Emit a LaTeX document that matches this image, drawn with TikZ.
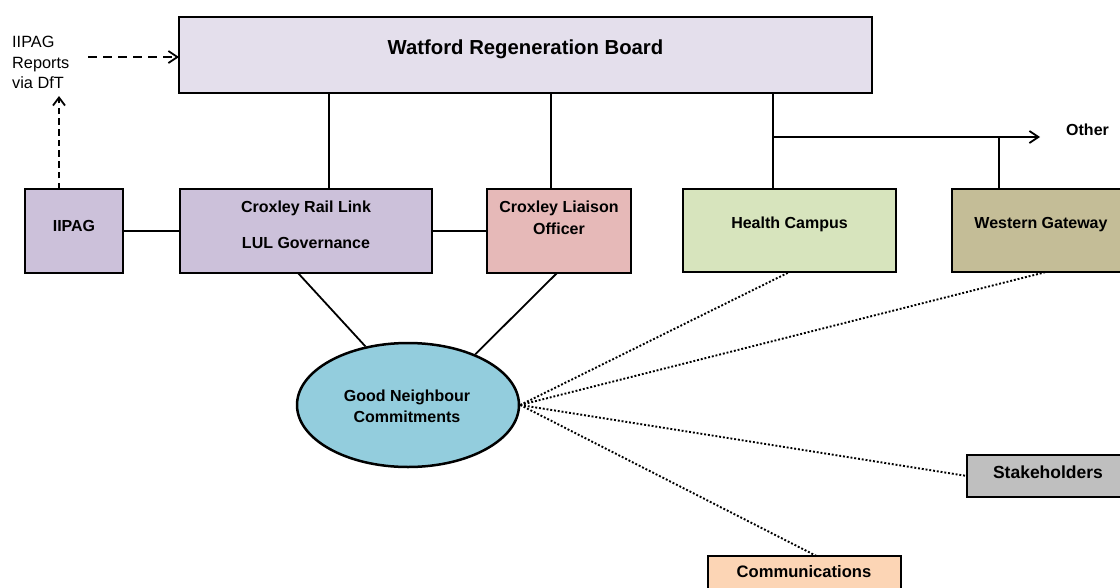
\documentclass[tikz,border=0pt]{standalone}
\usepackage{fontspec}
\setmainfont{Liberation Sans}
\usetikzlibrary{shapes.geometric,arrows.meta}

\definecolor{boardfill}{HTML}{E4DFEC}
\definecolor{lilacfill}{HTML}{CCC1DA}
\definecolor{pinkfill}{HTML}{E6B9B8}
\definecolor{greenfill}{HTML}{D7E4BD}
\definecolor{olivefill}{HTML}{C4BD97}
\definecolor{bluefill}{HTML}{93CDDD}
\definecolor{greyfill}{HTML}{BFBFBF}
\definecolor{peachfill}{HTML}{FCD5B5}

\begin{document}
\begin{tikzpicture}[x=1pt,y=-1pt,
  box/.style={draw=black, line width=2pt, inner sep=0pt, outer sep=0pt, anchor=north west},
  lbl/.style={font=\bfseries\fontsize{16}{19}\selectfont, inner sep=0pt, anchor=base},
  plain/.style={font=\fontsize{16.3}{19}\selectfont, inner sep=0pt, anchor=base west},
  link/.style={line width=1.8pt},
  dotlink/.style={line width=1.9pt, dash pattern=on 1.9pt off 1.9pt},
  barb/.style={-{Straight Barb[length=9pt,width=12pt,line width=1.8pt]}}
]
\clip (0,0) rectangle (1120,587);
\fill[white] (0,0) rectangle (1120,587);

% boxes
\node[box, fill=boardfill, minimum width=693pt, minimum height=76pt] (wrb) at (179,17) {};
\node[box, fill=lilacfill, minimum width=98pt, minimum height=84pt] (iip) at (25,189) {};
\node[box, fill=lilacfill, minimum width=252pt, minimum height=84pt] (crl) at (180,189) {};
\node[box, fill=pinkfill, minimum width=144pt, minimum height=84pt] (clo) at (487,189) {};
\node[box, fill=greenfill, minimum width=213pt, minimum height=83pt] (hc) at (683,189) {};
\node[box, fill=olivefill, minimum width=180pt, minimum height=83pt] (wg) at (952,189) {};
\node[box, fill=greyfill, minimum width=170pt, minimum height=42pt] (sh) at (967,455) {};
\node[box, fill=peachfill, minimum width=193pt, minimum height=50pt] (com) at (708,556) {};
\node[ellipse, draw=black, line width=2.5pt, fill=bluefill, inner sep=0pt,
      minimum width=222pt, minimum height=124pt] (gnc) at (408,405) {};

% labels
\node[lbl, font=\bfseries\fontsize{20.3}{24}\selectfont] (wrbT) at (525.5,54) {Watford Regeneration Board};
\node[lbl] (iipT) at (74,231.5) {IIPAG};
\node[lbl] (crlT1) at (306,212) {Croxley Rail Link};
\node[lbl] (crlT2) at (306,248) {LUL Governance};
\node[lbl] (cloT1) at (559,212) {Croxley Liaison};
\node[lbl] (cloT2) at (559,234) {Officer};
\node[lbl] (hcT) at (789.5,228.5) {Health Campus};
\node[lbl] (wgT) at (1041,228.5) {Western Gateway};
\node[lbl, anchor=base west] (otherT) at (1066,135) {Other};
\node[lbl, font=\bfseries\fontsize{17.5}{21}\selectfont] (shT) at (1048,478.5) {Stakeholders};
\node[lbl, font=\bfseries\fontsize{16.6}{20}\selectfont] (comT) at (804,577.5) {Communications};
\node[lbl] (gncT1) at (407,401) {Good Neighbour};
\node[lbl] (gncT2) at (407,422.5) {Commitments};
\node[plain] (repT1) at (12,47.5) {IIPAG};
\node[plain] (repT2) at (12,68) {Reports};
\node[plain] (repT3) at (12,88.5) {via DfT};

% junctions and free ends
\coordinate (j1) at (773,137);
\coordinate (j2) at (999,137);
\coordinate (otherTip) at (1040,137);
\coordinate (dashStart) at (88,57);
\coordinate (upTip) at (59,96);

% board to the projects below
\draw[link] (329,0 |- wrb.south) -- (329,0 |- crl.north);
\draw[link] (551,0 |- wrb.south) -- (551,0 |- clo.north);
\draw[link] (j1 |- wrb.south) -- (j1 |- hc.north);
\draw[link, barb] (j1) -- (otherTip);
\draw[link] (j2) -- (j2 |- wg.north);

% side links
\draw[link] (iip.east) -- (crl.west);
\draw[link] (crl.east) -- (clo.west);
\draw[link] (298,0 |- crl.south) -- (gnc.126.6);
\draw[link] (557,0 |- clo.south) -- (gnc.37.4);

% reporting route
\draw[line width=1.8pt, dash pattern=on 6.5pt off 4.2pt,
      -{Straight Barb[length=8pt,width=12pt,line width=1.8pt]}]
      (upTip |- iip.north) -- (upTip);
\draw[line width=1.8pt, dash pattern=on 9pt off 6pt,
      -{Straight Barb[length=9pt,width=12pt,line width=1.8pt]}]
      (dashStart) -- (wrb.west |- dashStart);

% commitments reach
\draw[dotlink] (gnc.east) -- (hc.south);
\draw[dotlink] (gnc.east) -- ([xshift=4pt]wg.south);
\draw[dotlink] (gnc.east) -- (sh.west);
\draw[dotlink] (gnc.east) -- ([xshift=12pt]com.north);
\end{tikzpicture}
\end{document}
